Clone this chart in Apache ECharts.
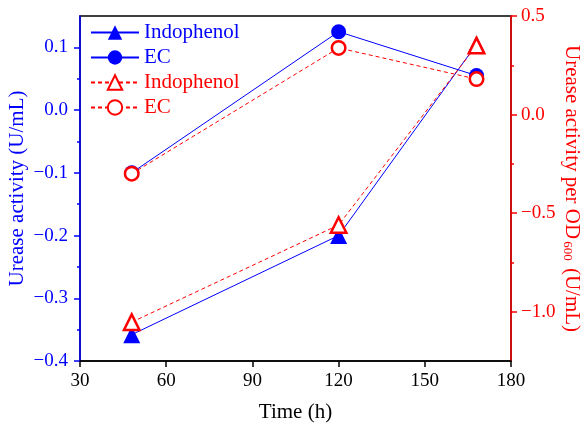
<!DOCTYPE html>
<html><head><meta charset="utf-8">
<script src="https://cdn.jsdelivr.net/npm/echarts@6/dist/echarts.min.js"></script>
<style>html,body{margin:0;padding:0;background:#fff}#c{width:584px;height:427px}</style>
</head><body><div id="c"></div>
<script>
const timeH = [48, 120, 168];
const indophenolActivity = [-0.358, -0.2, 0.105];
const ecActivity = [-0.1, 0.125, 0.055];
const indophenolPerOD = [-1.053, -0.56, 0.35];
const ecPerOD = [-0.3, 0.338, 0.18];
const xTicks = [30, 60, 90, 120, 150, 180];
const leftTicks = [-0.4, -0.3, -0.2, -0.1, 0.0, 0.1];
const leftMinor = [-0.35, -0.25, -0.15, -0.05, 0.05];
const rightTicks = [-1.0, -0.5, 0.0, 0.5];
const rightMinor = [-0.75, -0.25, 0.25];

const FONT = 'Liberation Serif';
const BLUE = '#0000ff', RED = '#ff0000';
const fmt = v => (Math.round(v*10)/10).toFixed(1).replace('-', '\u2212');
const pairs = (xs, ys) => xs.map((x,i)=>[x, ys[i]]);
const names = {ib:'Indophenol', eb:'EC', ir:'Indophenol', er:'EC'};

const chart = echarts.init(document.getElementById('c'), null, {renderer:'canvas'});
chart.setOption({
  animation:false,
  backgroundColor:'#fff',
  grid:{left:80, right:73, top:16, bottom:66, show:true, borderColor:'#000', borderWidth:1.5,
        backgroundColor:'transparent', containLabel:false, outerBoundsMode:'none'},
  legend:{
    orient:'vertical', left:90, top:22, padding:0, itemGap:4, itemWidth:48, itemHeight:18,
    formatter: n => names[n],
    textStyle:{fontFamily:FONT, fontSize:21},
    data:[
      {name:'ib', textStyle:{color:BLUE}},
      {name:'eb', textStyle:{color:BLUE}},
      {name:'ir', textStyle:{color:RED}},
      {name:'er', textStyle:{color:RED}}
    ]
  },
  xAxis:{
    type:'value', min:30, max:180, interval:30,
    name:'Time (h)', nameLocation:'middle', nameGap:41, nameMoveOverlap:false,
    nameTextStyle:{fontFamily:FONT, fontSize:21, color:'#000'},
    axisLine:{onZero:false, lineStyle:{color:'#000', width:1.5}},
    axisTick:{length:6, lineStyle:{color:'#000', width:1.5}},
    axisLabel:{fontFamily:FONT, fontSize:19, color:'#000', margin:11, customValues:xTicks},
    splitLine:{show:false}
  },
  yAxis:[
    {
      type:'value', min:-0.4, max:0.15, position:'left',
      name:'Urease activity (U/mL)', nameLocation:'middle', nameGap:52, nameRotate:90, nameMoveOverlap:false,
      nameTextStyle:{fontFamily:FONT, fontSize:21, color:BLUE},
      axisLine:{show:true, onZero:false, lineStyle:{color:BLUE, width:1.5}},
      axisTick:{show:true, length:6, lineStyle:{color:BLUE, width:1.5}, customValues:leftTicks},
      axisLabel:{fontFamily:FONT, fontSize:19, color:BLUE, margin:12, customValues:leftTicks, formatter:fmt},
      splitLine:{show:false}
    },
    {
      type:'value', min:-1.25, max:0.5, position:'right',
      name:'{a|Urease activity per OD}{s|600}{a| (U/mL)}', nameLocation:'middle', nameGap:50, nameRotate:-90, nameMoveOverlap:false,
      nameTextStyle:{fontFamily:FONT, fontSize:21, color:RED,
        rich:{a:{fontFamily:FONT, fontSize:21, color:RED, lineHeight:24, verticalAlign:'bottom'},
              s:{fontFamily:FONT, fontSize:13, color:RED, lineHeight:24, verticalAlign:'bottom', padding:[0,2,0,2]}}},
      axisLine:{show:true, onZero:false, lineStyle:{color:RED, width:1.5}},
      axisTick:{show:true, length:6, lineStyle:{color:RED, width:1.5}, customValues:rightTicks},
      axisLabel:{fontFamily:FONT, fontSize:19, color:RED, margin:10, customValues:rightTicks, formatter:fmt},
      splitLine:{show:false}
    },
    {
      type:'value', min:-0.4, max:0.15, position:'left',
      axisLine:{show:false, onZero:false}, axisLabel:{show:false}, splitLine:{show:false},
      axisTick:{show:true, length:3, lineStyle:{color:BLUE, width:1.5}, customValues:leftMinor}
    },
    {
      type:'value', min:-1.25, max:0.5, position:'right',
      axisLine:{show:false, onZero:false}, axisLabel:{show:false}, splitLine:{show:false},
      axisTick:{show:true, length:3, lineStyle:{color:RED, width:1.5}, customValues:rightMinor}
    }
  ],
  series:[
    {name:'ib', type:'line', yAxisIndex:0, data:pairs(timeH, indophenolActivity),
     symbol:'triangle', symbolSize:17, itemStyle:{color:BLUE},
     lineStyle:{color:BLUE, width:1}},
    {name:'eb', type:'line', yAxisIndex:0, data:pairs(timeH, ecActivity),
     symbol:'circle', symbolSize:15, itemStyle:{color:BLUE},
     lineStyle:{color:BLUE, width:1}},
    {name:'ir', type:'line', yAxisIndex:1, data:pairs(timeH, indophenolPerOD),
     symbol:'triangle', symbolSize:15.5, itemStyle:{color:'#fff', borderColor:RED, borderWidth:2.5},
     lineStyle:{color:RED, width:1, type:[4,3]}},
    {name:'er', type:'line', yAxisIndex:1, data:pairs(timeH, ecPerOD),
     symbol:'circle', symbolSize:13.5, itemStyle:{color:'#fff', borderColor:RED, borderWidth:2.5},
     lineStyle:{color:RED, width:1, type:[4,3]}}
  ]
});
</script></body></html>
